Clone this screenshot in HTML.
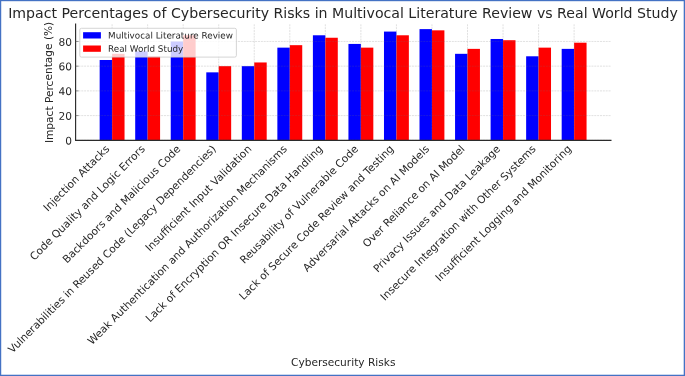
<!DOCTYPE html>
<html><head><meta charset="utf-8"><title>Chart</title>
<style>
html,body{margin:0;padding:0;background:#fff;}
#wrap{position:relative;width:685px;height:376px;overflow:hidden;}
#wrap svg{display:block;position:absolute;left:0;top:0;}
</style></head><body><div id="wrap">
<svg width="685" height="376" viewBox="0 0 685 376" font-family="'DejaVu Sans', 'Liberation Sans', sans-serif" fill="#262626">
<rect x="0" y="0" width="685" height="376" fill="#fff"/>
<rect x="99.66" y="59.99" width="12.44" height="80.31" fill="#0000ff"/><rect x="112.10" y="53.82" width="12.44" height="86.48" fill="#ff0000"/><rect x="135.20" y="51.34" width="12.44" height="88.96" fill="#0000ff"/><rect x="147.64" y="56.29" width="12.44" height="84.01" fill="#ff0000"/><rect x="170.74" y="41.46" width="12.44" height="98.84" fill="#0000ff"/><rect x="183.18" y="35.28" width="12.44" height="105.02" fill="#ff0000"/><rect x="206.28" y="72.35" width="12.44" height="67.95" fill="#0000ff"/><rect x="218.72" y="66.17" width="12.44" height="74.13" fill="#ff0000"/><rect x="241.82" y="66.17" width="12.44" height="74.13" fill="#0000ff"/><rect x="254.26" y="62.46" width="12.44" height="77.84" fill="#ff0000"/><rect x="277.36" y="47.64" width="12.44" height="92.66" fill="#0000ff"/><rect x="289.80" y="45.17" width="12.44" height="95.13" fill="#ff0000"/><rect x="312.90" y="35.28" width="12.44" height="105.02" fill="#0000ff"/><rect x="325.34" y="37.75" width="12.44" height="102.55" fill="#ff0000"/><rect x="348.44" y="43.93" width="12.44" height="96.37" fill="#0000ff"/><rect x="360.88" y="47.64" width="12.44" height="92.66" fill="#ff0000"/><rect x="383.98" y="31.58" width="12.44" height="108.72" fill="#0000ff"/><rect x="396.42" y="35.28" width="12.44" height="105.02" fill="#ff0000"/><rect x="419.52" y="29.11" width="12.44" height="111.20" fill="#0000ff"/><rect x="431.96" y="30.34" width="12.44" height="109.96" fill="#ff0000"/><rect x="455.06" y="53.82" width="12.44" height="86.48" fill="#0000ff"/><rect x="467.50" y="48.87" width="12.44" height="91.43" fill="#ff0000"/><rect x="490.60" y="38.99" width="12.44" height="101.31" fill="#0000ff"/><rect x="503.04" y="40.22" width="12.44" height="100.08" fill="#ff0000"/><rect x="526.14" y="56.29" width="12.44" height="84.01" fill="#0000ff"/><rect x="538.58" y="47.64" width="12.44" height="92.66" fill="#ff0000"/><rect x="561.68" y="48.87" width="12.44" height="91.43" fill="#0000ff"/><rect x="574.12" y="42.70" width="12.44" height="97.60" fill="#ff0000"/>
<g stroke="#707070" stroke-opacity="0.35" stroke-width="0.6" stroke-dasharray="2 0.85" fill="none"><line x1="112.10" y1="140.3" x2="112.10" y2="23.55"/><line x1="147.64" y1="140.3" x2="147.64" y2="23.55"/><line x1="183.18" y1="140.3" x2="183.18" y2="23.55"/><line x1="218.72" y1="140.3" x2="218.72" y2="23.55"/><line x1="254.26" y1="140.3" x2="254.26" y2="23.55"/><line x1="289.80" y1="140.3" x2="289.80" y2="23.55"/><line x1="325.34" y1="140.3" x2="325.34" y2="23.55"/><line x1="360.88" y1="140.3" x2="360.88" y2="23.55"/><line x1="396.42" y1="140.3" x2="396.42" y2="23.55"/><line x1="431.96" y1="140.3" x2="431.96" y2="23.55"/><line x1="467.50" y1="140.3" x2="467.50" y2="23.55"/><line x1="503.04" y1="140.3" x2="503.04" y2="23.55"/><line x1="538.58" y1="140.3" x2="538.58" y2="23.55"/><line x1="574.12" y1="140.3" x2="574.12" y2="23.55"/><line x1="75.6" y1="140.30" x2="610.8" y2="140.30"/><line x1="75.6" y1="115.59" x2="610.8" y2="115.59"/><line x1="75.6" y1="90.88" x2="610.8" y2="90.88"/><line x1="75.6" y1="66.17" x2="610.8" y2="66.17"/><line x1="75.6" y1="41.46" x2="610.8" y2="41.46"/></g>
<g stroke="#2b2b2b" stroke-width="1.15" fill="none"><line x1="75.6" y1="23.55" x2="75.6" y2="140.8"/><line x1="75.1" y1="140.3" x2="611.5" y2="140.3"/></g>
<g stroke="#555555" stroke-width="0.6"><line x1="75.6" y1="115.59" x2="78.6" y2="115.59"/><line x1="75.6" y1="90.88" x2="78.6" y2="90.88"/><line x1="75.6" y1="66.17" x2="78.6" y2="66.17"/><line x1="75.6" y1="41.46" x2="78.6" y2="41.46"/></g>
<g font-size="10.6"><text transform="translate(72.1,144.50) rotate(0.03)" text-anchor="end">0</text><text transform="translate(72.1,119.79) rotate(0.03)" text-anchor="end">20</text><text transform="translate(72.1,95.08) rotate(0.03)" text-anchor="end">40</text><text transform="translate(72.1,70.37) rotate(0.03)" text-anchor="end">60</text><text transform="translate(72.1,45.66) rotate(0.03)" text-anchor="end">80</text></g>
<g font-size="10.6"><text transform="translate(110.03,149.60) rotate(-45)" text-anchor="end">Injection Attacks</text><text transform="translate(145.57,149.60) rotate(-45)" text-anchor="end">Code Quality and Logic Errors</text><text transform="translate(181.11,149.60) rotate(-45)" text-anchor="end">Backdoors and Malicious Code</text><text transform="translate(216.65,149.60) rotate(-45)" text-anchor="end">Vulnerabilities in Reused Code (Legacy Dependencies)</text><text transform="translate(252.19,149.60) rotate(-45)" text-anchor="end">Insufficient Input Validation</text><text transform="translate(287.73,149.60) rotate(-45)" text-anchor="end">Weak Authentication and Authorization Mechanisms</text><text transform="translate(323.27,149.60) rotate(-45)" text-anchor="end">Lack of Encryption OR Insecure Data Handling</text><text transform="translate(358.81,149.60) rotate(-45)" text-anchor="end">Reusability of Vulnerable Code</text><text transform="translate(394.35,149.60) rotate(-45)" text-anchor="end">Lack of Secure Code Review and Testing</text><text transform="translate(429.89,149.60) rotate(-45)" text-anchor="end">Adversarial Attacks on AI Models</text><text transform="translate(465.43,149.60) rotate(-45)" text-anchor="end">Over Reliance on AI Model</text><text transform="translate(500.97,149.60) rotate(-45)" text-anchor="end">Privacy Issues and Data Leakage</text><text transform="translate(536.51,149.60) rotate(-45)" text-anchor="end">Insecure Integration with Other Systems</text><text transform="translate(572.05,149.60) rotate(-45)" text-anchor="end">Insufficient Logging and Monitoring</text></g>
<text transform="translate(343.20,365.9) rotate(0.02)" font-size="10.6" text-anchor="middle">Cybersecurity Risks</text>
<text transform="translate(52.5,82.42) rotate(-90.02)" font-size="10.6" text-anchor="middle">Impact Percentage (%)</text>
<text transform="translate(343,18.1) rotate(0.01)" font-size="14.14" text-anchor="middle">Impact Percentages of Cybersecurity Risks in Multivocal Literature Review vs Real World Study</text>
<rect x="79.8" y="28.3" width="156.6" height="28.8" rx="1.6" ry="1.6" fill="#ffffff" fill-opacity="0.8" stroke="#cccccc" stroke-width="0.8"/>
<rect x="83.1" y="32.2" width="17.8" height="6.3" fill="#0000ff"/><rect x="83.1" y="45.5" width="17.8" height="6.3" fill="#ff0000"/>
<g font-size="8.8"><text transform="translate(108.1,38.5) rotate(0.03)">Multivocal Literature Review</text><text transform="translate(108.1,51.7) rotate(0.03)">Real World Study</text></g>
<g fill="#4472c4"><rect x="0" y="0" width="685" height="1"/><rect x="0" y="375" width="685" height="1"/><rect x="0" y="0" width="1" height="376"/><rect x="684" y="0" width="1" height="376"/></g>
<g fill="#4472c4"><rect x="1" y="1" width="683" height="1" fill-opacity="0.2"/><rect x="1" y="374" width="683" height="1" fill-opacity="0.28"/><rect x="1" y="1" width="1" height="374" fill-opacity="0.22"/><rect x="683" y="1" width="1" height="374" fill-opacity="0.3"/></g>
</svg>
</div></body></html>
